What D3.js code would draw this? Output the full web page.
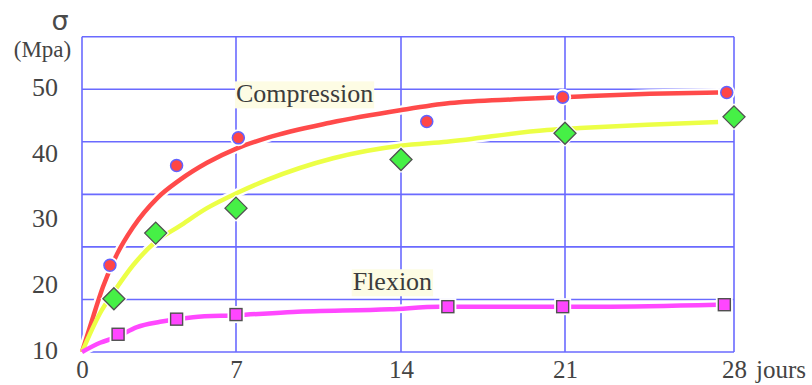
<!DOCTYPE html>
<html>
<head>
<meta charset="utf-8">
<script src="https://cdn.jsdelivr.net/npm/d3@7"></script>
<style>
  html, body { margin: 0; padding: 0; background: #fff; }
  svg { display: block; }
</style>
</head>
<body>
<svg id="chart" width="812" height="385"></svg>
<script>
// Age of the specimens (days) and grid
const xTicks = [0, 7, 14, 21, 28];
const xGrid = [0, 7, 14, 21, 28];
const yTicks = [10, 20, 30, 40, 50];
const yGrid = [10, 18, 26, 34, 42, 50, 58];

// Measured strengths (MPa)
const compDays = [1.27, 4.3, 7.1, 15.1, 20.9, 27.7];
const compVals = [23.2, 38.4, 42.6, 45.1, 48.8, 49.5];

const midDays = [1.45, 3.35, 7.0, 14.0, 21.0, 28.0];
const midVals = [18.1, 28.1, 31.9, 39.3, 43.3, 45.8];

const flexDays = [1.64, 4.3, 7.0, 16.0, 20.9, 27.6];
const flexVals = [12.7, 15.0, 15.7, 16.9, 16.9, 17.2];

// Fitted growth curves
const compFitDays = [0, 0.36, 0.95, 1.59, 2.32, 3.41, 4.45, 5.68, 7.04, 8.32, 10.99, 13.96, 16.09, 19.08, 21.62, 24.52, 27.34];
const compFitVals = [10, 13.8, 19.9, 24.9, 29.0, 33.4, 36.2, 38.8, 41.0, 42.6, 44.9, 46.8, 47.9, 48.5, 48.9, 49.3, 49.5];

const midFitDays = [0, 0.82, 1.5, 2.32, 3.32, 4.45, 5.68, 7.04, 8.32, 11.12, 13.96, 15.96, 20.23, 21.62, 24.4, 27.34];
const midFitVals = [10, 15.9, 19.4, 23.2, 26.7, 29.2, 31.9, 34.2, 36.2, 39.5, 41.4, 42.0, 43.8, 44.1, 44.6, 45.0];

const flexFitDays = [0, 0.82, 1.59, 2.5, 3.55, 5.05, 7.04, 9.42, 13.53, 15.66, 22.45, 27.3];
const flexFitVals = [10, 11.4, 12.3, 13.8, 14.6, 15.3, 15.6, 16.1, 16.5, 16.9, 16.9, 17.2];

// Curve labels: text, day and value at the left baseline
const labelTexts = ["Compression", "Flexion"];
const labelDays = [7.0, 11.95];
const labelVals = [48.0, 19.4];

const svg = d3.select("#chart");

const x = d3.scaleLinear().domain([0, 7, 14, 21, 28]).range([82, 236, 401, 565, 734]);
const y = d3.scaleLinear().domain([10, 58]).range([352, 36.7]);

const gridColor = "#6a6aff";
const textColor = "#444";
const serif = "'Liberation Serif', 'Times New Roman', serif";

// Grid and frame
const grid = svg.append("g");
grid.selectAll("line.h").data(yGrid).join("line")
  .attr("x1", x(0)).attr("x2", x(28))
  .attr("y1", d => y(d)).attr("y2", d => y(d))
  .attr("stroke", gridColor).attr("stroke-width", 1.6);
grid.selectAll("line.v").data(xGrid).join("line")
  .attr("x1", d => x(d)).attr("x2", d => x(d))
  .attr("y1", y(58)).attr("y2", y(10))
  .attr("stroke", gridColor).attr("stroke-width", 1.6);

// Axis labels
const xAxis = svg.append("g")
  .attr("transform", `translate(0,${y(10)})`)
  .call(d3.axisBottom(x).tickValues(xTicks).tickSize(0).tickPadding(8).tickFormat(d3.format("d")));
xAxis.select(".domain").remove();
xAxis.selectAll("text").attr("font-family", serif).attr("font-size", 25).attr("fill", textColor);

svg.append("text")
  .attr("x", x(28) + 22).attr("y", 378)
  .attr("font-family", serif).attr("font-size", 25).attr("fill", textColor)
  .text("jours");

const yAxis = svg.append("g")
  .attr("transform", `translate(${x(0)},0)`)
  .call(d3.axisLeft(y).tickValues(yTicks).tickSize(0).tickPadding(24).tickFormat(d3.format("d")));
yAxis.select(".domain").remove();
yAxis.selectAll("text").attr("font-family", serif).attr("font-size", 26).attr("fill", textColor).attr("dy", "0.24em");

svg.append("text")
  .attr("x", 60).attr("y", 30).attr("text-anchor", "middle")
  .attr("font-family", "'DejaVu Sans', sans-serif").attr("font-size", 27).attr("fill", "#4a4a4a")
  .text("σ");
svg.append("text")
  .attr("x", 42.5).attr("y", 57).attr("text-anchor", "middle")
  .attr("font-family", serif).attr("font-size", 23).attr("fill", textColor)
  .text("(Mpa)");

// Curve labels on a pale background
const labels = svg.append("g");
labelTexts.forEach((t, i) => {
  const g = labels.append("g");
  const txt = g.append("text")
    .attr("x", x(labelDays[i])).attr("y", y(labelVals[i]))
    .attr("font-family", serif).attr("font-size", 26).attr("fill", "#3c3c3c")
    .text(t);
  const b = txt.node().getBBox();
  g.insert("rect", "text")
    .attr("x", b.x - 1).attr("y", b.y + 2).attr("width", b.width + 2).attr("height", b.height - 2)
    .attr("fill", "#fdfce4");
});

// Fitted curves with a white casing
const line = d3.line().x(d => x(d[0])).y(d => y(d[1])).curve(d3.curveMonotoneX);
const curves = [
  { days: compFitDays, vals: compFitVals, color: "#ff4a4a" },
  { days: midFitDays, vals: midFitVals, color: "#ecff46" },
  { days: flexFitDays, vals: flexFitVals, color: "#ff48ff" }
];
const curveG = svg.append("g");
curves.forEach(c => {
  const pts = c.days.map((d, i) => [d, c.vals[i]]);
  curveG.append("path").datum(pts).attr("d", line)
    .attr("fill", "none").attr("stroke", "#fff").attr("stroke-width", 9).attr("stroke-linecap", "round");
});
curves.forEach(c => {
  const pts = c.days.map((d, i) => [d, c.vals[i]]);
  curveG.append("path").datum(pts).attr("d", line)
    .attr("fill", "none").attr("stroke", c.color).attr("stroke-width", 4.5).attr("stroke-linecap", "butt");
});

// Measured points
const marks = svg.append("g");
const comp = compDays.map((d, i) => [d, compVals[i]]);
const mid = midDays.map((d, i) => [d, midVals[i]]);
const flex = flexDays.map((d, i) => [d, flexVals[i]]);

marks.selectAll("circle.halo").data(comp).join("circle")
  .attr("cx", d => x(d[0])).attr("cy", d => y(d[1])).attr("r", 8.5).attr("fill", "#fff");
marks.selectAll("circle.pt").data(comp).join("circle")
  .attr("cx", d => x(d[0])).attr("cy", d => y(d[1])).attr("r", 6)
  .attr("fill", "#ff4646").attr("stroke", "#6262ff").attr("stroke-width", 1.5);

const diamond = (s) => `M0,${-s}L${s},0L0,${s}L${-s},0Z`;
marks.selectAll("path.halo").data(mid).join("path")
  .attr("transform", d => `translate(${x(d[0])},${y(d[1])})`)
  .attr("d", diamond(13.5)).attr("fill", "#fff");
marks.selectAll("path.pt").data(mid).join("path")
  .attr("transform", d => `translate(${x(d[0])},${y(d[1])})`)
  .attr("d", diamond(11))
  .attr("fill", "#46f046").attr("stroke", "#505050").attr("stroke-width", 1.3);

marks.selectAll("rect.halo").data(flex).join("rect")
  .attr("x", d => x(d[0]) - 8.5).attr("y", d => y(d[1]) - 8.5)
  .attr("width", 17).attr("height", 17).attr("fill", "#fff");
marks.selectAll("rect.pt").data(flex).join("rect")
  .attr("x", d => x(d[0]) - 6).attr("y", d => y(d[1]) - 6)
  .attr("width", 12).attr("height", 12)
  .attr("fill", "#ff46ff").attr("stroke", "#505050").attr("stroke-width", 1.4);
</script>
</body>
</html>
